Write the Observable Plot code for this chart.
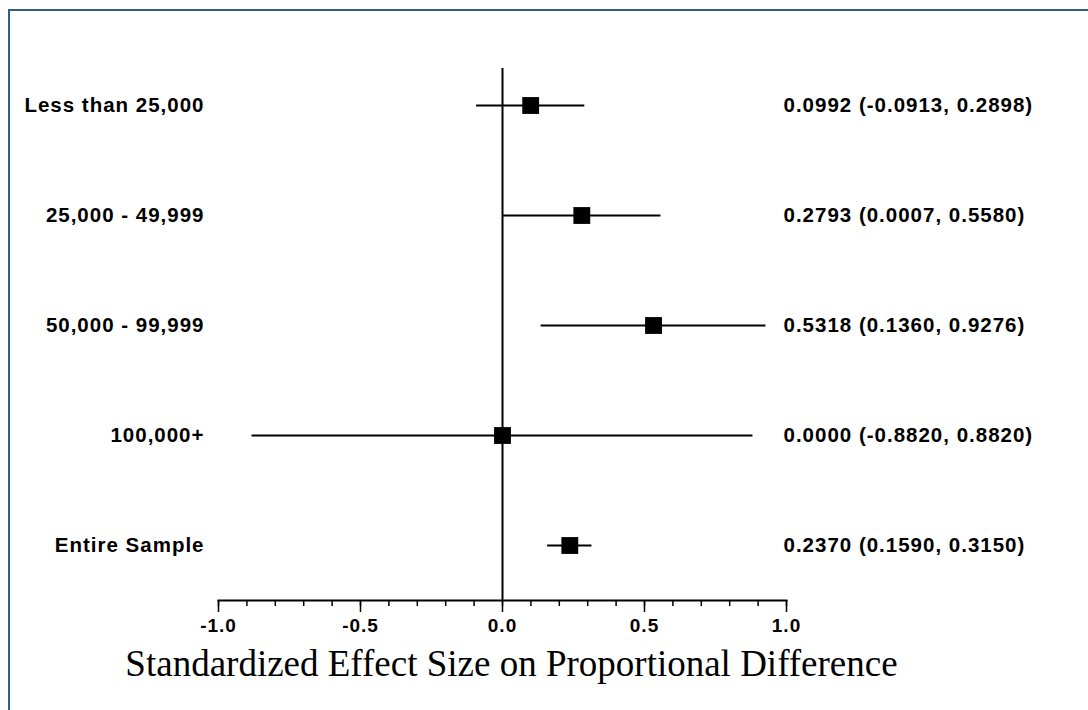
<!DOCTYPE html>
<html>
<head>
<meta charset="utf-8">
<script src="https://cdn.jsdelivr.net/npm/d3@7"></script>
<script src="https://cdn.jsdelivr.net/npm/@observablehq/plot@0.6"></script>
<style>
  html, body { margin: 0; padding: 0; background: #fff; overflow: hidden; }
  #wrap { position: relative; width: 1088px; height: 710px; }
  #border { position: absolute; left: 8px; top: 9px; width: 1200px; height: 900px;
            border-left: 2px solid #2f5d8c; border-top: 2px solid #2f5d8c; }
  #chart { position: absolute; left: 0; top: 0; }
</style>
</head>
<body>
<div id="wrap"><div id="border"></div><div id="chart"></div></div>
<script>
const categories = ["Less than 25,000", "25,000 - 49,999", "50,000 - 99,999", "100,000+", "Entire Sample"];
const estimates = [0.0992, 0.2793, 0.5318, 0.0000, 0.2370];
const lower = [-0.0913, 0.0007, 0.1360, -0.8820, 0.1590];
const upper = [0.2898, 0.5580, 0.9276, 0.8820, 0.3150];
const majorTicks = [-1.0, -0.5, 0.0, 0.5, 1.0];
const minorTicks = [-1.0, -0.9, -0.8, -0.7, -0.6, -0.5, -0.4, -0.3, -0.2, -0.1, 0.0, 0.1, 0.2, 0.3, 0.4, 0.5, 0.6, 0.7, 0.8, 0.9, 1.0];
const xTitle = "Standardized Effect Size on Proportional Difference";

const rows = categories.map((c, i) => ({
  cat: c, est: estimates[i], lo: lower[i], hi: upper[i],
  label: `${estimates[i].toFixed(4)} (${lower[i].toFixed(4)}, ${upper[i].toFixed(4)})`
}));

const sans = "Arial, 'Liberation Sans', sans-serif";

const chart = Plot.plot({
  width: 1088,
  height: 710,
  marginLeft: 218,
  marginRight: 302,
  marginTop: 68,
  marginBottom: 110,
  style: { fontFamily: sans, fontWeight: "bold", color: "#000", background: "transparent", overflow: "visible", letterSpacing: "1px" },
  x: { domain: [-1, 1] },
  y: { type: "point", domain: categories, range: [105, 545], padding: 0 },
  marks: [
    Plot.ruleX([0], { stroke: "#000", strokeWidth: 2 }),
    Plot.frame({ anchor: "bottom", stroke: "#000", strokeWidth: 2 }),
    Plot.axisX({ ticks: minorTicks, tickSize: 6, text: null, stroke: "#000", strokeWidth: 1.5 }),
    Plot.axisX({ ticks: majorTicks, tickSize: 12, tickPadding: 6, tickFormat: d => d.toFixed(1),
                 label: null, fontSize: 19, fill: "#000", stroke: "#000", strokeWidth: 1.5 }),
    Plot.axisY({ tickSize: 0, tickPadding: 14, label: null, fontSize: 20.5, fill: "#000" }),
    Plot.ruleY(rows, { y: "cat", x1: "lo", x2: "hi", stroke: "#000", strokeWidth: 2 }),
    Plot.dot(rows, { y: "cat", x: "est", symbol: "square", r: 9.5, fill: "#000", stroke: "none" }),
    Plot.text(rows, { y: "cat", text: "label", frameAnchor: "right", dx: -3, textAnchor: "start",
                      fontSize: 20.5, fill: "#000" }),
    Plot.text([xTitle], { frameAnchor: "bottom", dx: 9, dy: 75, lineAnchor: "bottom",
                          fontFamily: "'Times New Roman', 'Liberation Serif', serif",
                          fontWeight: "normal", fontSize: 37, fill: "#000" })
  ]
});
d3.select(chart).selectAll("text")
  .filter(function () { return this.textContent === xTitle; })
  .style("letter-spacing", "0px");
document.getElementById("chart").appendChild(chart);
</script>
</body>
</html>
